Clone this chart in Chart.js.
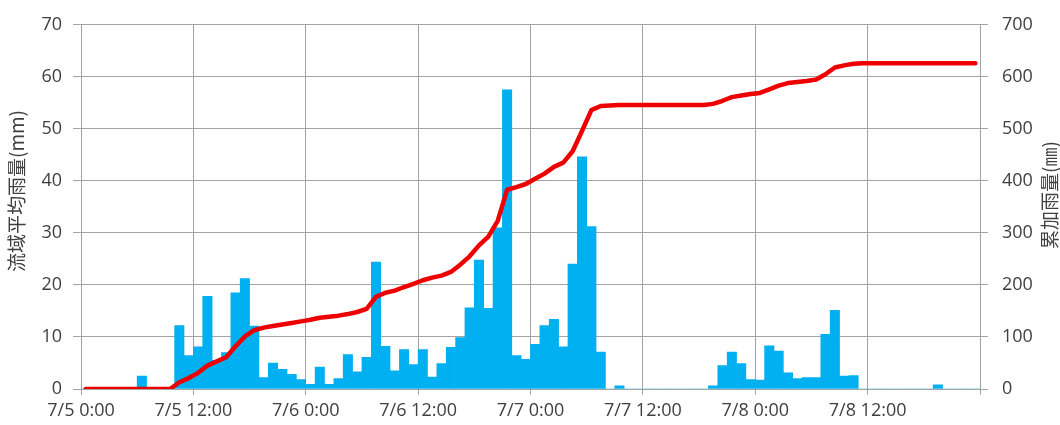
<!DOCTYPE html>
<html>

<head>
  <meta charset="utf-8">
  <title>流域平均雨量</title>
  <script src="https://cdn.jsdelivr.net/npm/chart.js"></script>
  <style>
    body {
      margin: 0;
      background: #fff;
    }
  </style>
</head>

<body>
  <canvas id="rainChart" width="1060" height="425"></canvas>
  <script>
    // hourly basin-average rainfall (mm), 7/5 0:00 .. 7/9 0:00
    const hourlyRain = [
      0, 0, 0, 0, 0, 0, 2.5, 0, 0, 0, 12.2, 6.4,
      8.1, 17.8, 5.5, 7.0, 18.5, 21.2, 12.1, 2.2, 5.0, 3.8, 2.8, 1.8,
      0.9, 4.2, 0.9, 2.0, 6.6, 3.3, 6.1, 24.4, 8.2, 3.5, 7.6, 4.7,
      7.6, 2.3, 4.9, 8.0, 9.9, 15.6, 24.8, 15.5, 31.0, 57.5, 6.4, 5.7,
      8.6, 12.2, 13.4, 8.1, 24.0, 44.6, 31.2, 7.1, 0, 0.6, 0, 0,
      0, 0, 0, 0, 0, 0, 0, 0.6, 4.5, 7.1, 4.9, 1.8,
      1.7, 8.3, 7.3, 3.1, 2.0, 2.2, 2.2, 10.5, 15.1, 2.5, 2.6, 0,
      0, 0, 0, 0, 0, 0, 0, 0.8, 0, 0, 0, 0
    ];

    // cumulative rainfall (mm)
    const cumulativeRain = [
      0, 0, 0, 0, 0, 0, 0, 0, 0, 0, 13, 21,
      31, 45, 53, 61, 82, 101, 113, 118, 121, 124, 127, 130,
      133, 137, 139, 141, 144, 148, 154, 177, 185, 189, 196, 202,
      209, 214, 218, 225, 239, 255, 276, 293, 323, 383, 388, 394,
      404, 414, 427, 435, 457, 496, 536, 544, 545, 546, 546, 546,
      546, 546, 546, 546, 546, 546, 546, 548, 554, 561, 564, 567,
      569, 576, 583, 588, 590, 592, 595, 605, 618, 622, 625, 626,
      626, 626, 626, 626, 626, 626, 626, 626, 626, 626, 626, 626
    ];

    const xTickLabels = ['7/5 0:00', '7/5 12:00', '7/6 0:00', '7/6 12:00',
      '7/7 0:00', '7/7 12:00', '7/8 0:00', '7/8 12:00'];

    const leftTitle = '流域平均雨量(mm)';
    const rightTitle = '累加雨量(㎜)';

    const gridColor = '#a3a3a3';
    const textColor = '#404040';
    const tickFont = { family: '"Open Sans", "Noto Sans", sans-serif', size: 18 };

    // each hourly value sits at the middle of its hour
    const barPoints = hourlyRain.map((v, i) => ({ x: i + 0.5, y: v }));
    const linePoints = cumulativeRain.map((v, i) => ({ x: i + 0.5, y: v }));

    const axisTitles = {
      id: 'axisTitles',
      afterDraw(chart) {
        const ctx = chart.ctx;
        ctx.save();
        ctx.fillStyle = textColor;
        ctx.font = '19px "Noto Sans CJK JP", sans-serif';
        ctx.textAlign = 'center';
        ctx.textBaseline = 'middle';
        ctx.translate(17, 191);
        ctx.rotate(-Math.PI / 2);
        ctx.fillText(leftTitle, 0, 0);
        ctx.restore();

        ctx.save();
        ctx.fillStyle = textColor;
        ctx.font = '19px "Noto Sans CJK JP", sans-serif';
        ctx.textAlign = 'center';
        ctx.textBaseline = 'middle';
        ctx.translate(1050, 195);
        ctx.rotate(-Math.PI / 2);
        ctx.fillText(rightTitle, 0, 0);
        ctx.restore();
      }
    };

    const ctx = document.getElementById('rainChart').getContext('2d');
    new Chart(ctx, {
      data: {
        datasets: [{
          type: 'line',
          label: '累加雨量',
          data: linePoints,
          yAxisID: 'y2',
          borderColor: '#ee0000',
          borderWidth: 4.5,
          borderCapStyle: 'round',
          borderJoinStyle: 'round',
          pointRadius: 0,
          tension: 0,
          order: 0
        }, {
          type: 'bar',
          label: '流域平均雨量',
          data: barPoints,
          yAxisID: 'y',
          backgroundColor: '#00b0f0',
          borderWidth: 0,
          barPercentage: 1,
          categoryPercentage: 1,
          order: 1
        }]
      },
      options: {
        responsive: false,
        animation: false,
        layout: {
          padding: { top: 19, left: 0, right: 0, bottom: 0 }
        },
        plugins: {
          legend: { display: false },
          tooltip: { enabled: false }
        },
        scales: {
          x: {
            type: 'linear',
            min: 0,
            max: 96,
            offset: false,
            afterFit: s => { s.height = 36; },
            ticks: {
              stepSize: 12,
              autoSkip: false,
              maxRotation: 0,
              padding: 5,
              color: textColor,
              font: tickFont,
              callback: v => xTickLabels[v / 12] || ''
            },
            grid: {
              offset: false,
              color: gridColor,
              lineWidth: 1,
              tickLength: 6
            },
            border: { color: gridColor, width: 1 }
          },
          y: {
            position: 'left',
            min: 0,
            max: 70,
            afterFit: s => { s.width = 81; },
            ticks: {
              stepSize: 10,
              padding: 11,
              color: textColor,
              font: tickFont
            },
            grid: {
              color: gridColor,
              lineWidth: 1,
              tickLength: 8
            },
            border: { color: gridColor, width: 1 }
          },
          y2: {
            position: 'right',
            min: 0,
            max: 700,
            afterFit: s => { s.width = 80; },
            ticks: {
              stepSize: 100,
              padding: 14,
              color: textColor,
              font: tickFont
            },
            grid: {
              drawOnChartArea: false,
              color: gridColor,
              lineWidth: 1,
              tickLength: 8
            },
            border: { color: gridColor, width: 1 }
          }
        }
      },
      plugins: [axisTitles]
    });
  </script>
</body>

</html>
